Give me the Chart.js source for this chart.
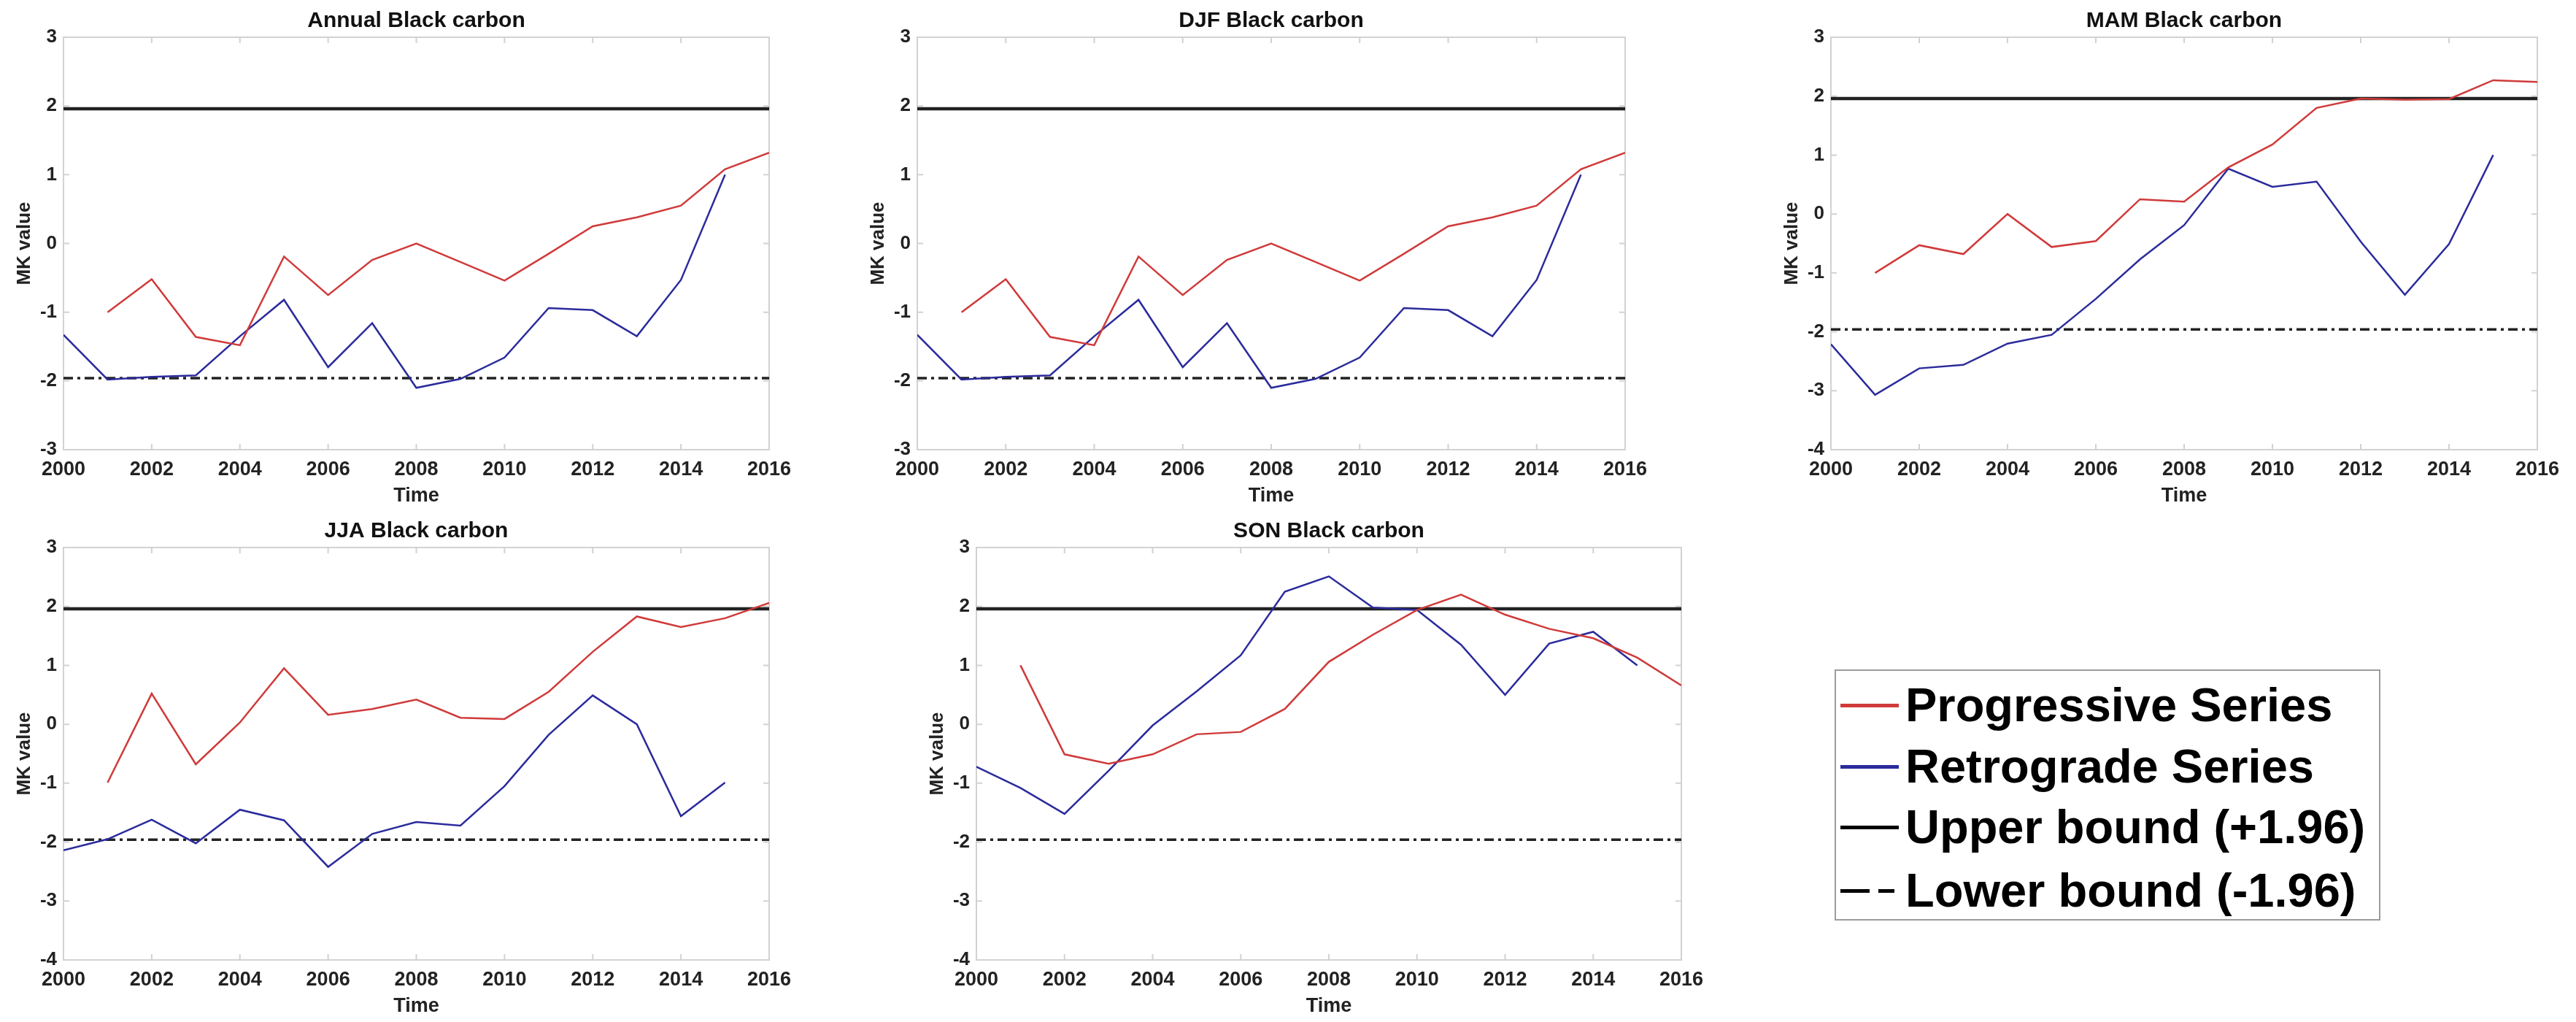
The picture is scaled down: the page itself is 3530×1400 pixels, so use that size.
<!DOCTYPE html>
<html>
<head>
<meta charset="utf-8">
<title>Black carbon MK test</title>
<script src="https://cdn.jsdelivr.net/npm/chart.js@4.4.1/dist/chart.umd.min.js"></script>
<style>
  html, body { margin: 0; padding: 0; background: #fff; }
  body { width: 3530px; height: 1400px; position: relative; overflow: hidden; font-family: "Liberation Sans", Arial, sans-serif; }
  canvas.panel { position: absolute; }
  #legend { position: absolute; left: 2514px; top: 917px; width: 748px; height: 344px; box-sizing: border-box;
            border: 2px solid #9c9c9c; background: #fff; }
  #legend .row { position: absolute; left: 0; height: 80px; width: 100%; }
  #legend .sample { position: absolute; left: 6px; top: 38px; width: 80px; height: 0; border-top: 5px solid #000; }
  #legend .dash1 { position: absolute; left: 6px; top: 38px; width: 40px; height: 0; border-top: 5px solid #000; }
  #legend .dash2 { position: absolute; left: 58px; top: 38px; width: 22px; height: 0; border-top: 5px solid #000; }
  #legend .txt { position: absolute; left: 95px; top: 0; line-height: 80px; font-size: 65px; font-weight: bold; color: #000; white-space: nowrap; }
</style>
</head>
<body>
<canvas id="annual" class="panel" width="1120" height="700" style="left:0px;top:0px"></canvas>
<canvas id="djf" class="panel" width="1120" height="700" style="left:1170px;top:0px"></canvas>
<canvas id="mam" class="panel" width="1108" height="700" style="left:2422px;top:0px"></canvas>
<canvas id="jja" class="panel" width="1120" height="700" style="left:0px;top:699px"></canvas>
<canvas id="son" class="panel" width="1120" height="700" style="left:1251px;top:699px"></canvas>

<div id="legend">
  <div class="row" style="top:7px"><div class="sample" style="border-color:#d03a3a"></div><div class="txt">Progressive Series</div></div>
  <div class="row" style="top:91px"><div class="sample" style="border-color:#2b2b9c"></div><div class="txt">Retrograde Series</div></div>
  <div class="row" style="top:174px"><div class="sample"></div><div class="txt">Upper bound (+1.96)</div></div>
  <div class="row" style="top:261px"><div class="dash1"></div><div class="dash2"></div><div class="txt">Lower bound (-1.96)</div></div>
</div>

<script>
// years on the x axis
const years = [2000, 2001, 2002, 2003, 2004, 2005, 2006, 2007, 2008, 2009, 2010, 2011, 2012, 2013, 2014, 2015, 2016];
const xTicks = [2000, 2002, 2004, 2006, 2008, 2010, 2012, 2014, 2016];

// significance bounds
const boundYears = [2000, 2016];
const upperBound = [1.96, 1.96];
const lowerBound = [-1.96, -1.96];

// Annual
const annualProg  = [null, -1.00, -0.52, -1.36, -1.48, -0.19, -0.75, -0.24, 0.00, -0.27, -0.54, -0.15, 0.25, 0.38, 0.55, 1.08, 1.32];
const annualRetro = [-1.33, -1.98, -1.94, -1.92, -1.35, -0.82, -1.80, -1.16, -2.10, -1.97, -1.66, -0.94, -0.97, -1.35, -0.53, 1.00, null];

// DJF
const djfProg  = [null, -1.00, -0.52, -1.36, -1.48, -0.19, -0.75, -0.24, 0.00, -0.27, -0.54, -0.15, 0.25, 0.38, 0.55, 1.08, 1.32];
const djfRetro = [-1.33, -1.98, -1.94, -1.92, -1.35, -0.82, -1.80, -1.16, -2.10, -1.97, -1.66, -0.94, -0.97, -1.35, -0.53, 1.00, null];

// MAM
const mamProg  = [null, -1.00, -0.53, -0.68, 0.00, -0.56, -0.46, 0.25, 0.21, 0.79, 1.18, 1.80, 1.96, 1.94, 1.95, 2.27, 2.24];
const mamRetro = [-2.21, -3.07, -2.62, -2.56, -2.20, -2.05, -1.44, -0.77, -0.19, 0.77, 0.46, 0.55, -0.47, -1.37, -0.51, 1.00, null];

// JJA
const jjaProg  = [null, -0.99, 0.52, -0.68, 0.03, 0.95, 0.16, 0.26, 0.42, 0.11, 0.09, 0.55, 1.23, 1.83, 1.65, 1.80, 2.06];
const jjaRetro = [-2.14, -1.95, -1.62, -2.02, -1.45, -1.63, -2.42, -1.86, -1.66, -1.72, -1.05, -0.18, 0.49, 0.00, -1.56, -0.99, null];

// SON
const sonProg  = [null, 1.00, -0.51, -0.67, -0.51, -0.17, -0.13, 0.26, 1.06, 1.52, 1.94, 2.20, 1.86, 1.62, 1.46, 1.13, 0.66];
const sonRetro = [-0.72, -1.08, -1.52, -0.79, -0.02, 0.56, 1.17, 2.25, 2.51, 1.98, 1.94, 1.35, 0.50, 1.37, 1.57, 1.00, null];

const FONT = '"Liberation Sans", Arial, sans-serif';
const RED = '#d03a3a';
const BLUE = '#2b2b9c';

function pts(xs, ys) {
    return xs.map(function(x, i) { return {x: x, y: ys[i]}; });
}

// matlab style grey box with small inner tick marks
const boxPlugin = {
    id: 'mbox',
    beforeDatasetsDraw(chart) {
        const ctx = chart.ctx;
        const a = chart.chartArea;
        const xs = chart.scales.x, ys = chart.scales.y;
        ctx.save();
        ctx.strokeStyle = '#d2d2d2';
        ctx.lineWidth = 2;
        ctx.strokeRect(a.left, a.top, a.right - a.left, a.bottom - a.top);
        ctx.beginPath();
        xs.ticks.forEach(function(t) {
            const px = xs.getPixelForValue(t.value);
            ctx.moveTo(px, a.bottom); ctx.lineTo(px, a.bottom - 8);
            ctx.moveTo(px, a.top); ctx.lineTo(px, a.top + 8);
        });
        ys.ticks.forEach(function(t) {
            const py = ys.getPixelForValue(t.value);
            ctx.moveTo(a.left, py); ctx.lineTo(a.left + 8, py);
            ctx.moveTo(a.right, py); ctx.lineTo(a.right - 8, py);
        });
        ctx.stroke();
        ctx.restore();
    }
};

function makePanel(id, title, prog, retro, yMin, padRight) {
    new Chart(document.getElementById(id), {
        type: 'line',
        data: {
            datasets: [
                { label: 'Progressive Series', data: pts(years, prog), borderColor: RED, borderWidth: 2.5 },
                { label: 'Retrograde Series', data: pts(years, retro), borderColor: BLUE, borderWidth: 2.5 },
                { label: 'Upper bound (+1.96)', data: pts(boundYears, upperBound), borderColor: '#222', borderWidth: 4.5 },
                { label: 'Lower bound (-1.96)', data: pts(boundYears, lowerBound), borderColor: '#222', borderWidth: 3.5, borderDash: [13, 6, 4, 6] }
            ]
        },
        options: {
            responsive: false,
            animation: false,
            devicePixelRatio: 1,
            layout: { padding: { left: 0, right: padRight, top: 0, bottom: 0 } },
            elements: { point: { radius: 0 }, line: { tension: 0, fill: false } },
            plugins: {
                legend: { display: false },
                tooltip: { enabled: false },
                title: {
                    display: true, text: title, fullSize: false, color: '#111',
                    font: { family: FONT, size: 30, weight: 'bold' },
                    padding: { top: 11, bottom: 4 }
                }
            },
            scales: {
                x: {
                    type: 'linear', min: 2000, max: 2016,
                    grid: { display: false, drawTicks: false },
                    border: { display: false },
                    afterBuildTicks: function(s) { s.ticks = xTicks.map(function(v) { return {value: v}; }); },
                    ticks: {
                        padding: 11, color: '#222', autoSkip: false, maxRotation: 0,
                        font: { family: FONT, size: 27, weight: 'bold' },
                        callback: function(v) { return String(v); }
                    },
                    title: {
                        display: true, text: 'Time', color: '#222',
                        font: { family: FONT, size: 27, weight: 'bold' },
                        padding: { top: 0, bottom: 4 }
                    },
                    afterFit: function(s) { s.height = 84; }
                },
                y: {
                    min: yMin, max: 3,
                    grid: { display: false, drawTicks: false },
                    border: { display: false },
                    ticks: {
                        stepSize: 1, padding: 9, color: '#222',
                        font: { family: FONT, size: 26, weight: 'bold' },
                        callback: function(v) { return String(v); }
                    },
                    title: {
                        display: true, text: 'MK value', color: '#222',
                        font: { family: FONT, size: 26, weight: 'bold' },
                        padding: { top: 18, bottom: 0 }
                    },
                    afterFit: function(s) { s.width = 87; }
                }
            }
        },
        plugins: [boxPlugin]
    });
}

makePanel('annual', 'Annual Black carbon', annualProg, annualRetro, -3, 66);
makePanel('djf', 'DJF Black carbon', djfProg, djfRetro, -3, 63);
makePanel('mam', 'MAM Black carbon', mamProg, mamRetro, -4, 53);
makePanel('jja', 'JJA Black carbon', jjaProg, jjaRetro, -4, 66);
makePanel('son', 'SON Black carbon', sonProg, sonRetro, -4, 67);
</script>
</body>
</html>
